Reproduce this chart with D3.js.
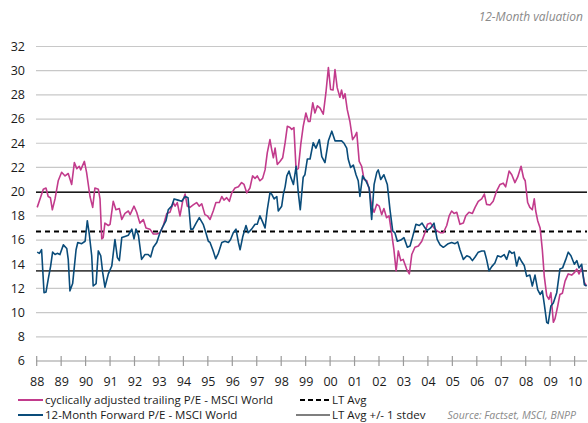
<!DOCTYPE html>
<html><head><meta charset="utf-8">
<script src="https://cdn.jsdelivr.net/npm/d3@7/dist/d3.min.js"></script>
<style>
html,body{margin:0;padding:0;background:#fff;}
svg text{font-family:"Open Sans",sans-serif;}
</style></head>
<body>
<svg id="c" width="588" height="423"></svg>
<script>
// ---- data ----
const yearTicks = [1988,1989,1990,1991,1992,1993,1994,1995,1996,1997,1998,1999,2000,2001,2002,2003,2004,2005,2006,2007,2008,2009,2010];
const yTicks = [6,8,10,12,14,16,18,20,22,24,26,28,30,32];
const ltAvg = 16.7;
const ltUpper = 19.95;
const ltLower = 13.45;

const trailingPE = [
[1988.02,18.7],[1988.27,20.2],[1988.38,20.3],[1988.47,19.6],[1988.56,19.5],[1988.64,18.5],[1988.75,19.4],[1988.88,20.9],
[1989.02,21.6],[1989.16,21.3],[1989.29,21.5],[1989.43,20.6],[1989.54,22.4],[1989.64,21.9],[1989.74,22.1],[1989.80,21.8],[1989.95,22.5],
[1990.04,21.6],[1990.18,19.6],[1990.29,18.7],[1990.38,20.3],[1990.52,20.2],[1990.59,19.4],[1990.66,16.1],[1990.72,16.2],[1990.79,17.4],[1990.93,17.2],
[1991.00,17.3],[1991.13,19.2],[1991.24,18.5],[1991.38,18.6],[1991.48,17.7],[1991.61,18.2],[1991.75,18.4],[1991.82,18.1],[1991.98,18.8],
[1992.09,18.3],[1992.22,17.4],[1992.36,17.7],[1992.47,17.0],[1992.63,16.9],[1992.77,16.5],[1992.91,16.5],
[1993.04,16.6],[1993.18,17.2],[1993.32,18.2],[1993.45,18.3],[1993.59,19.1],[1993.66,18.8],[1993.75,19.1],[1993.86,18.0],[1993.97,19.2],
[1994.07,19.8],[1994.16,18.8],[1994.27,18.7],[1994.40,18.9],[1994.54,19.1],[1994.65,18.8],[1994.75,19.0],[1994.88,18.1],[1994.98,18.0],
[1995.09,17.7],[1995.22,18.4],[1995.33,19.1],[1995.47,19.1],[1995.57,19.6],[1995.66,19.3],[1995.77,19.5],[1995.88,19.2],[1995.98,19.9],
[1996.11,20.3],[1996.25,20.4],[1996.38,20.75],[1996.48,20.6],[1996.59,19.9],[1996.72,20.3],[1996.83,21.3],[1996.93,21.1],
[1997.02,21.3],[1997.13,20.9],[1997.24,21.1],[1997.34,21.8],[1997.43,23.2],[1997.54,24.3],[1997.61,23.5],[1997.68,22.8],[1997.75,23.6],[1997.84,22.25],[1997.95,22.5],
[1998.06,22.8],[1998.16,24.05],[1998.25,25.4],[1998.36,25.3],[1998.43,25.15],[1998.52,25.3],[1998.61,21.8],[1998.70,21.9],[1998.80,23.9],[1998.90,25.4],
[1999.01,26.5],[1999.11,25.8],[1999.18,25.8],[1999.29,27.35],[1999.38,26.5],[1999.48,27.1],[1999.59,26.9],[1999.72,26.4],[1999.83,28.2],[1999.93,30.25],
[2000.02,28.45],[2000.12,28.4],[2000.20,30.1],[2000.29,28.6],[2000.40,27.8],[2000.47,28.4],[2000.54,27.7],[2000.61,28.1],[2000.70,26.8],[2000.81,25.8],[2000.92,24.3],
[2001.02,24.6],[2001.09,24.9],[2001.19,22.5],[2001.29,22.1],[2001.39,21.0],[2001.50,20.9],[2001.60,20.2],[2001.70,18.8],[2001.80,18.3],[2001.91,18.95],
[2002.01,18.8],[2002.11,18.1],[2002.20,18.6],[2002.31,17.85],[2002.41,18.0],[2002.52,16.5],[2002.61,15.2],[2002.70,13.45],[2002.79,15.1],[2002.89,14.3],[2002.99,14.4],
[2003.13,13.6],[2003.24,13.2],[2003.34,14.8],[2003.47,15.4],[2003.61,15.5],[2003.75,15.9],[2003.88,16.6],[2003.98,17.3],
[2004.11,17.4],[2004.25,17.0],[2004.38,16.75],[2004.52,16.6],[2004.63,16.6],[2004.77,17.2],[2004.87,18.0],[2004.97,18.4],
[2005.07,18.2],[2005.18,18.3],[2005.31,17.3],[2005.45,17.4],[2005.55,18.0],[2005.68,18.3],[2005.82,18.2],[2005.93,18.7],
[2006.06,19.2],[2006.20,19.4],[2006.31,19.8],[2006.40,18.95],[2006.54,18.9],[2006.67,19.2],[2006.81,20.05],[2006.95,20.6],
[2007.08,20.7],[2007.18,20.4],[2007.32,21.7],[2007.43,21.4],[2007.56,20.75],[2007.67,21.2],[2007.81,22.1],[2007.91,21.15],[2007.98,20.9],
[2008.08,19.1],[2008.17,18.7],[2008.27,18.5],[2008.35,19.4],[2008.41,18.4],[2008.49,17.6],[2008.59,17.0],[2008.68,15.2],[2008.76,13.0],[2008.86,11.4],[2008.95,11.1],
[2009.03,11.65],[2009.13,9.2],[2009.20,9.5],[2009.31,10.55],[2009.40,11.5],[2009.50,11.6],[2009.61,12.6],[2009.74,13.2],[2009.88,13.1],[2009.99,13.3],
[2010.09,13.6],[2010.18,13.2],[2010.29,13.7],[2010.40,12.5],[2010.49,12.2]
];

const forwardPE = [
[1988.02,15.0],[1988.11,14.9],[1988.20,15.2],[1988.30,11.65],[1988.38,11.7],[1988.47,12.75],[1988.57,13.85],[1988.65,15.0],[1988.75,14.8],[1988.84,14.9],[1988.95,14.8],
[1989.09,15.6],[1989.23,15.3],[1989.29,14.4],[1989.36,11.8],[1989.47,12.4],[1989.61,15.2],[1989.68,15.8],[1989.84,15.7],[1989.98,15.9],
[1990.07,17.6],[1990.15,16.5],[1990.25,14.7],[1990.31,12.2],[1990.43,12.4],[1990.52,15.1],[1990.62,14.7],[1990.70,13.3],[1990.79,12.1],[1990.93,13.2],
[1991.07,13.85],[1991.20,16.05],[1991.30,14.55],[1991.38,14.3],[1991.48,16.2],[1991.61,16.3],[1991.75,16.4],[1991.89,16.9],[1991.98,16.1],
[1992.06,16.9],[1992.16,16.4],[1992.29,14.4],[1992.43,14.8],[1992.56,14.8],[1992.66,14.6],[1992.77,15.4],[1992.91,15.8],
[1993.04,16.6],[1993.18,17.2],[1993.29,17.6],[1993.38,18.5],[1993.52,18.8],[1993.62,19.4],[1993.78,19.3],[1993.93,19.2],
[1994.07,19.6],[1994.19,19.5],[1994.30,16.9],[1994.39,16.9],[1994.52,17.4],[1994.65,17.85],[1994.81,17.3],[1994.92,16.6],
[1995.02,15.9],[1995.09,15.8],[1995.22,15.1],[1995.32,14.45],[1995.43,14.9],[1995.57,15.8],[1995.70,15.9],[1995.84,15.8],[1995.93,16.05],
[1996.04,16.6],[1996.15,16.9],[1996.25,15.8],[1996.32,15.2],[1996.43,16.3],[1996.56,17.2],[1996.65,16.6],[1996.79,16.9],[1996.93,17.3],
[1997.02,17.3],[1997.13,18.0],[1997.24,17.5],[1997.34,17.0],[1997.43,18.5],[1997.54,19.9],[1997.61,19.8],[1997.71,19.4],[1997.82,19.6],[1997.88,18.4],
[1998.02,18.8],[1998.09,19.8],[1998.16,20.4],[1998.23,21.3],[1998.32,21.7],[1998.39,21.2],[1998.50,20.6],[1998.61,22.1],[1998.70,19.9],[1998.78,18.5],[1998.90,21.2],[1998.97,21.4],
[1999.07,22.7],[1999.18,22.7],[1999.31,24.05],[1999.42,23.6],[1999.56,24.3],[1999.66,22.9],[1999.79,22.4],[1999.93,24.2],
[2000.07,25.0],[2000.20,24.2],[2000.34,24.2],[2000.47,24.2],[2000.57,24.0],[2000.68,23.6],[2000.74,22.7],[2000.84,22.0],[2000.95,22.2],
[2001.06,21.4],[2001.15,20.9],[2001.22,19.6],[2001.33,21.3],[2001.46,20.9],[2001.60,20.3],[2001.70,17.7],[2001.80,20.6],[2001.91,21.6],[2001.97,21.8],
[2002.07,21.0],[2002.20,21.4],[2002.34,20.6],[2002.45,18.5],[2002.56,16.75],[2002.65,16.6],[2002.75,15.9],[2002.89,16.0],
[2003.02,16.2],[2003.16,15.4],[2003.27,15.5],[2003.38,16.3],[2003.51,17.3],[2003.65,17.2],[2003.76,17.4],[2003.88,17.0],[2003.98,16.8],
[2004.11,17.0],[2004.25,17.4],[2004.38,16.05],[2004.50,15.6],[2004.63,15.4],[2004.70,15.5],[2004.83,15.7],[2004.97,15.8],
[2005.11,15.7],[2005.22,15.85],[2005.31,15.2],[2005.45,14.4],[2005.59,14.7],[2005.71,14.6],[2005.82,14.3],[2005.93,14.6],
[2006.06,15.0],[2006.20,15.1],[2006.31,15.1],[2006.40,14.4],[2006.50,13.45],[2006.61,13.8],[2006.74,14.1],[2006.85,14.7],[2006.99,14.6],
[2007.12,14.8],[2007.22,14.4],[2007.33,15.1],[2007.44,14.9],[2007.53,15.0],[2007.63,13.85],[2007.73,14.6],[2007.84,14.2],[2007.94,13.9],
[2008.04,13.0],[2008.17,13.1],[2008.27,12.2],[2008.38,13.1],[2008.49,11.9],[2008.59,11.5],[2008.68,11.8],[2008.76,10.7],[2008.86,9.2],[2008.92,9.1],
[2009.03,10.55],[2009.13,10.8],[2009.27,11.65],[2009.40,13.6],[2009.51,13.7],[2009.64,14.4],[2009.74,15.0],[2009.85,14.7],[2009.99,14.0],
[2010.09,14.3],[2010.18,13.7],[2010.29,14.0],[2010.40,12.3],[2010.49,12.2]
];

const seriesNames = ["cyclically adjusted trailing P/E - MSCI World","12-Month Forward P/E - MSCI World"];
const refNames = ["LT Avg","LT Avg +/- 1 stdev"];
const colors = {trail:"#C23B8C", fwd:"#0A4C7A"};

// ---- drawing ----
const svg = d3.select("#c");
const x = d3.scaleLinear().domain([1988,2010]).range([36.7,574.6]);
const y = d3.scaleLinear().domain([6,32]).range([361,46.5]);
const x0 = 36, x1 = 587;

// gridlines
svg.append("g").selectAll("line").data(yTicks.filter(d=>d>6)).join("line")
  .attr("x1",x0).attr("x2",x1).attr("y1",d=>y(d)).attr("y2",d=>y(d))
  .attr("stroke","#c8c8c8").attr("stroke-width",1.2);

// y labels
svg.append("g").selectAll("text").data(yTicks).join("text")
  .attr("x",25).attr("y",d=>y(d)).attr("dy","0.35em").attr("text-anchor","end")
  .attr("font-size",12.5).attr("fill","#1a1a1a").text(d=>d);

// x axis
const xAxis = d3.axisBottom(x).tickValues(yearTicks).tickSize(0).tickFormat(d=>String(d).slice(2));
const gx = svg.append("g").attr("transform",`translate(0,${y(6)})`).call(xAxis);
gx.select(".domain").remove();
gx.selectAll("text").attr("font-size",12.5).attr("fill","#1a1a1a").attr("dy",0).attr("y",25)
  .style("font-family",'"Open Sans",sans-serif');
svg.append("line").attr("x1",x0).attr("x2",x1).attr("y1",y(6)).attr("y2",y(6)).attr("stroke","#9a9a9a").attr("stroke-width",1.2);
svg.append("g").selectAll("line").data(yearTicks).join("line")
  .attr("x1",d=>x(d)).attr("x2",d=>x(d)).attr("y1",y(6)-5).attr("y2",y(6)+5)
  .attr("stroke","#9a9a9a").attr("stroke-width",1.2);

// reference lines
svg.append("line").attr("x1",x0).attr("x2",x1).attr("y1",y(ltUpper)).attr("y2",y(ltUpper)).attr("stroke","#1a1a1a").attr("stroke-width",1.5);
svg.append("line").attr("x1",x0).attr("x2",x1).attr("y1",y(ltLower)).attr("y2",y(ltLower)).attr("stroke","#444").attr("stroke-width",1.6);
svg.append("line").attr("x1",x0).attr("x2",x1).attr("y1",y(ltAvg)).attr("y2",y(ltAvg)).attr("stroke","#000").attr("stroke-width",2).attr("stroke-dasharray","5,4");

// series
const line = d3.line().x(d=>x(d[0])).y(d=>y(d[1]));
svg.append("path").datum(trailingPE).attr("d",line).attr("fill","none").attr("stroke",colors.trail).attr("stroke-width",1.6).attr("stroke-linejoin","round");
svg.append("path").datum(forwardPE).attr("d",line).attr("fill","none").attr("stroke",colors.fwd).attr("stroke-width",1.6).attr("stroke-linejoin","round");

// title
svg.append("text").attr("x",583).attr("y",21).attr("text-anchor","end").attr("font-size",12)
  .attr("font-style","italic").attr("fill","#8a8a8a").text("12-Month valuation");

// legend
const leg = svg.append("g");
const rows = [
  {y:400, x1:18, x2:43, color:colors.trail, dash:null, w:2, text:seriesNames[0], tx:45},
  {y:415, x1:18, x2:43, color:colors.fwd, dash:null, w:2, text:seriesNames[1], tx:45},
  {y:400, x1:300, x2:330, color:"#000", dash:"5,3", w:2, text:refNames[0], tx:332},
  {y:415, x1:296, x2:330, color:"#000", dash:null, w:1.2, text:refNames[1], tx:332}
];
rows.forEach(r=>{
  leg.append("line").attr("x1",r.x1).attr("x2",r.x2).attr("y1",r.y).attr("y2",r.y)
    .attr("stroke",r.color).attr("stroke-width",r.w).attr("stroke-dasharray",r.dash);
  leg.append("text").attr("x",r.tx).attr("y",r.y).attr("dy","0.35em").attr("font-size",11.5).attr("fill","#1a1a1a").text(r.text);
});
svg.append("text").attr("x",576).attr("y",415).attr("dy","0.35em").attr("text-anchor","end").attr("font-size",10.5)
  .attr("font-style","italic").attr("fill","#8a8a8a").text("Source: Factset, MSCI, BNPP");
</script>
</body></html>
